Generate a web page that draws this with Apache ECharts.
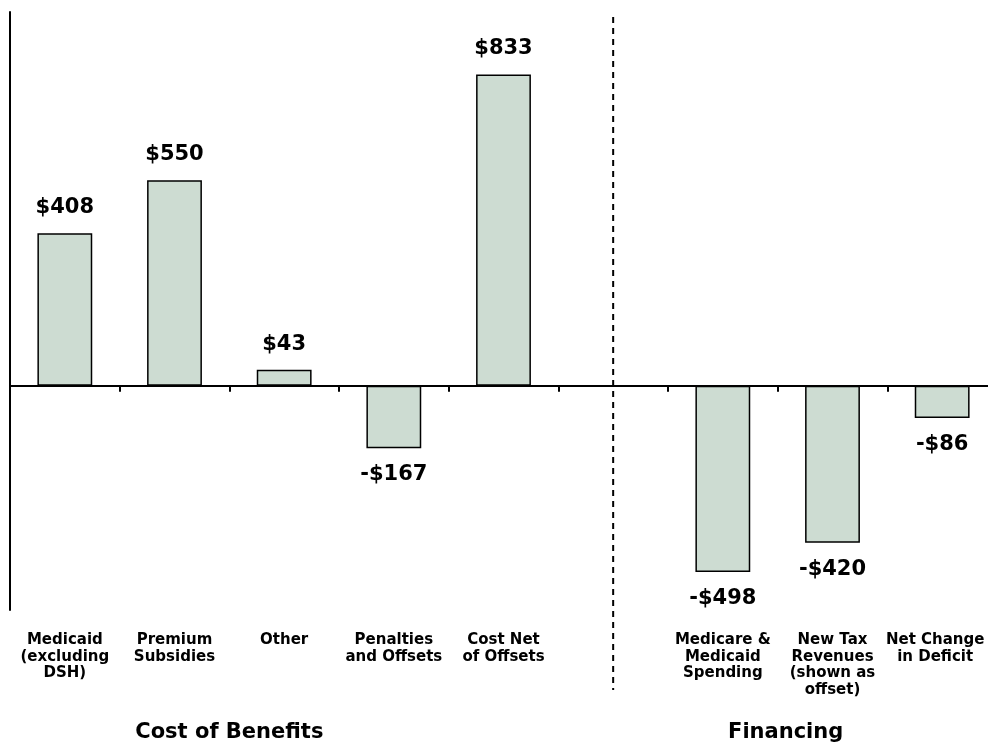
<!DOCTYPE html>
<html>
<head>
<meta charset="utf-8">
<script src="https://cdn.jsdelivr.net/npm/echarts@6/dist/echarts.min.js"></script>
<style>html,body{margin:0;padding:0;background:#fff;}#c{width:988px;height:744px;}</style>
</head>
<body>
<div id="c"></div>
<script>
const categories = ['Medicaid\n(excluding\nDSH)', 'Premium\nSubsidies', 'Other', 'Penalties\nand Offsets', 'Cost Net\nof Offsets', '', 'Medicare &\nMedicaid\nSpending', 'New Tax\nRevenues\n(shown as\noffset)', 'Net Change\nin Deficit'];
const values = [408, 550, 43, -167, 833, null, -498, -420, -86];
const groupTitles = ['Cost of Benefits', 'Financing'];
const dividerCategory = '';

const FONT = 'DejaVu Sans';
const chart = echarts.init(document.getElementById('c'));
const fmt = v => (v < 0 ? '-$' + Math.abs(v) : '$' + v);
const lastIdx = categories.length - 1;
const labelData = categories.map((c, i) => i === lastIdx ? { value: c, textStyle: { padding: [0, 14, 0, 0] } } : c);

chart.setOption({
  animation: false,
  backgroundColor: '#fff',
  grid: { left: 10, right: -9, top: 12, bottom: 134, outerBoundsMode: 'none', containLabel: false },
  xAxis: [
    {
      type: 'category', data: categories, position: 'bottom',
      axisLine: { onZero: true, lineStyle: { color: '#000', width: 2 } },
      axisTick: { show: true, inside: false, length: 6, lineStyle: { color: '#000', width: 2 } },
      axisLabel: { show: false }
    },
    {
      type: 'category', data: labelData, position: 'bottom',
      axisLine: { show: false, onZero: false }, axisTick: { show: false },
      axisLabel: { show: true, interval: 0, margin: 22, color: '#000', fontFamily: FONT, fontWeight: 'bold', fontSize: 15, lineHeight: 16.5, align: 'center' }
    }
  ],
  yAxis: {
    type: 'value', min: -600, max: 1000,
    axisLine: { show: true, lineStyle: { color: '#000', width: 2 } },
    axisTick: { show: false }, axisLabel: { show: false }, splitLine: { show: false }
  },
  series: [{
    type: 'bar', xAxisIndex: 0, barWidth: '50%',
    data: values.map(v => v === null ? '-' : {
      value: v,
      label: { position: v < 0 ? 'bottom' : 'top', distance: v < 0 ? 16 : 15 }
    }),
    itemStyle: { color: '#cddcd2', borderColor: '#000', borderWidth: 1.5 },
    label: { show: true, color: '#000', fontFamily: FONT, fontWeight: 'bold', fontSize: 21, formatter: p => fmt(p.value) }
  }]
});

// group titles and divider, positioned from the axis scale
const idx = categories.indexOf(dividerCategory);
const px = i => chart.convertToPixel({ xAxisIndex: 0 }, i);
const xDiv = px(idx);
const x1 = (px(1) + px(2)) / 2;
const x2 = (px(7) + px(6)) / 2 + 8;
chart.setOption({
  graphic: [
    { type: 'line', shape: { x1: xDiv, y1: 17, x2: xDiv, y2: 690 }, style: { stroke: '#000', lineWidth: 2, lineDash: [6, 5] }, silent: true },
    { type: 'text', x: x1, y: 733, style: { text: groupTitles[0], fill: '#000', font: 'bold 21px ' + FONT, align: 'center', verticalAlign: 'middle' } },
    { type: 'text', x: x2, y: 733, style: { text: groupTitles[1], fill: '#000', font: 'bold 21px ' + FONT, align: 'center', verticalAlign: 'middle' } }
  ]
});
</script>
</body>
</html>
